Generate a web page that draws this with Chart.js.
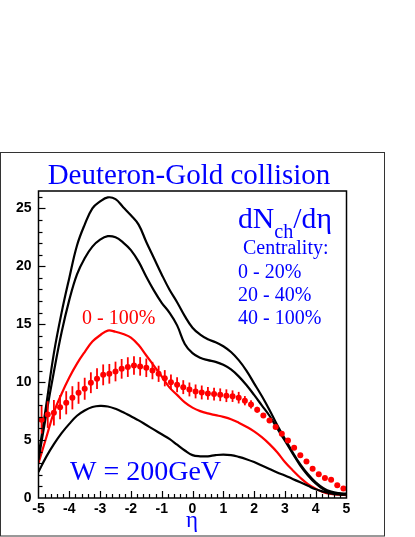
<!DOCTYPE html>
<html>
<head>
<meta charset="utf-8">
<script src="https://cdn.jsdelivr.net/npm/chart.js@4/dist/chart.umd.min.js"></script>
<style>
  html, body { margin: 0; padding: 0; background: #fff; }
  canvas { display: block; }
</style>
</head>
<body>
<canvas id="dAuChart" width="415" height="537"></canvas>
<script>
// Grade de eta das curvas teóricas
const etaGrid = [-5, -4.75, -4.5, -4.25, -4, -3.75, -3.5, -3.25, -3, -2.75, -2.5, -2.25, -2, -1.75, -1.5, -1.25, -1, -0.75, -0.5, -0.25,
    0, 0.25, 0.5, 0.75, 1, 1.25, 1.5, 1.75, 2, 2.25, 2.5, 2.75, 3, 3.25, 3.5, 3.75, 4, 4.25, 4.5, 4.75, 5];

// dN/deta por centralidade (curvas pretas) e minimum bias (curva vermelha)
const central0to20 = [3.6, 8.0, 12.5, 16.0, 19.0, 21.8, 23.6, 25.0, 25.6, 25.95, 25.8, 25.1, 24.4, 23.6, 22.1, 20.7, 19.3, 18.0, 16.9, 15.7,
    14.7, 14.1, 13.7, 13.45, 13.1, 12.6, 11.9, 11.0, 9.9, 8.8, 7.6, 6.3, 5.1, 3.95, 2.9, 2.05, 1.35, 0.85, 0.55, 0.42, 0.38];
const central20to40 = [3.3, 7.2, 10.9, 14.3, 17.1, 19.3, 20.7, 21.7, 22.3, 22.6, 22.5, 22.05, 21.4, 20.4, 19.1, 17.9, 16.85, 16.0, 14.9, 13.3,
    12.5, 12.1, 11.9, 11.75, 11.5, 11.1, 10.5, 9.75, 8.9, 8.0, 7.1, 6.0, 4.95, 3.85, 2.8, 1.95, 1.25, 0.75, 0.45, 0.35, 0.3];
const central40to100 = [2.25, 3.55, 4.65, 5.6, 6.4, 7.1, 7.55, 7.85, 7.95, 7.9, 7.7, 7.4, 7.05, 6.7, 6.3, 5.9, 5.5, 5.1, 4.6, 4.1,
    3.7, 3.6, 3.6, 3.7, 3.75, 3.7, 3.55, 3.35, 3.1, 2.8, 2.5, 2.2, 1.95, 1.65, 1.35, 1.05, 0.75, 0.55, 0.4, 0.3, 0.3];
const minBias0to100 = [3.0, 5.2, 7.4, 9.0, 10.4, 11.6, 12.6, 13.5, 14.05, 14.45, 14.35, 14.15, 13.85, 13.2, 12.3, 11.4, 10.5, 9.55, 8.9, 8.25,
    7.8, 7.5, 7.3, 7.15, 7.0, 6.8, 6.5, 6.15, 5.75, 5.25, 4.65, 3.95, 3.1, 2.4, 1.75, 1.2, 0.8, 0.5, 0.35, 0.28, 0.25];

// Dados experimentais (pontos vermelhos) com barras de erro
const dataEta = [-4.9, -4.7, -4.5, -4.3, -4.1, -3.9, -3.7, -3.5, -3.3, -3.1, -2.9, -2.7, -2.5, -2.3, -2.1, -1.9, -1.7, -1.5, -1.3, -1.1,
    -0.9, -0.7, -0.5, -0.3, -0.1, 0.1, 0.3, 0.5, 0.7, 0.9, 1.1, 1.3, 1.5, 1.7, 1.9, 2.1, 2.3, 2.5, 2.7, 2.9,
    3.1, 3.3, 3.5, 3.7, 3.9, 4.1, 4.3, 4.5, 4.7, 4.9];
const dataValues = [6.76, 7.2, 7.36, 7.84, 8.22, 8.65, 9.08, 9.43, 9.95, 10.3, 10.63, 10.72, 10.92, 11.15, 11.3, 11.44, 11.36, 11.24, 11.0, 10.72,
    10.34, 10.0, 9.78, 9.57, 9.37, 9.2, 9.11, 9.03, 8.97, 8.91, 8.83, 8.79, 8.66, 8.4, 8.08, 7.62, 7.13, 6.7, 6.12, 5.55,
    4.97, 4.34, 3.68, 3.16, 2.53, 2.04, 1.72, 1.58, 1.09, 0.81];
const dataErrors = [1.2, 1.15, 1.1, 1.05, 1.0, 1.0, 0.95, 0.95, 0.9, 0.9, 0.9, 0.85, 0.85, 0.85, 0.85, 0.8, 0.8, 0.8, 0.75, 0.7,
    0.7, 0.65, 0.65, 0.6, 0.6, 0.6, 0.6, 0.55, 0.55, 0.55, 0.55, 0.5, 0.5, 0.4, 0.35, 0.25, 0.2, 0.2, 0.15, 0.15,
    0.1, 0.1, 0.1, 0.1, 0.1, 0.1, 0.1, 0.1, 0.1, 0.1];

// Rótulos dos eixos
const xTickLabels = [-5, -4, -3, -2, -1, 0, 1, 2, 3, 4, 5];
const yTickLabels = [0, 5, 10, 15, 20, 25];

const BLUE = '#0000ff';
const RED = '#ff0000';

function toPoints(xs, ys) {
    return xs.map((x, i) => ({ x: x, y: ys[i] }));
}

function curve(values, color) {
    return {
        data: toPoints(etaGrid, values),
        borderColor: color,
        borderWidth: 2.2,
        pointRadius: 0,
        tension: 0.4,
        fill: false,
        order: 2
    };
}

// Barras de erro desenhadas logo antes dos pontos
const errorBars = {
    id: 'errorBars',
    beforeDatasetDraw(chart, args) {
        if (args.index !== 4) return;
        const { ctx, scales: { x, y } } = chart;
        ctx.save();
        ctx.strokeStyle = RED;
        ctx.lineWidth = 1.8;
        dataEta.forEach((eta, i) => {
            const px = x.getPixelForValue(eta);
            ctx.beginPath();
            ctx.moveTo(px, y.getPixelForValue(dataValues[i] - dataErrors[i]));
            ctx.lineTo(px, y.getPixelForValue(dataValues[i] + dataErrors[i]));
            ctx.stroke();
        });
        ctx.restore();
    }
};

// dN_ch/d(eta) com subscrito, ajustado para ocupar a largura indicada
function drawDNdEta(ctx, x0, baseline, targetWidth) {
    const serif = s => s + 'px "Liberation Serif"';
    let big = 28, small = 19;
    const measure = () => {
        ctx.font = serif(big);
        let w = ctx.measureText('dN').width + ctx.measureText('/d\u03b7').width;
        ctx.font = serif(small);
        return w + ctx.measureText('ch').width;
    };
    const k = targetWidth / measure();
    big *= k; small *= k;
    let cx = x0;
    ctx.font = serif(big);
    ctx.fillText('dN', cx, baseline);
    cx += ctx.measureText('dN').width;
    ctx.font = serif(small);
    ctx.fillText('ch', cx, baseline + 10);
    cx += ctx.measureText('ch').width;
    ctx.font = serif(big);
    ctx.fillText('/d\u03b7', cx, baseline);
}

// Moldura, marcas dos eixos e textos
const decorations = {
    id: 'decorations',
    beforeDraw(chart) {
        const ctx = chart.ctx;
        ctx.save();
        ctx.fillStyle = '#fff';
        ctx.fillRect(0, 0, chart.width, chart.height);
        ctx.restore();
    },
    afterDraw(chart) {
        const { ctx, chartArea: a, scales: { x, y } } = chart;
        ctx.save();

        // moldura externa
        ctx.strokeStyle = '#333';
        ctx.lineWidth = 1;
        ctx.strokeRect(0.5, 152.5, 384, 383.5);

        // marcas do eixo y (para dentro)
        ctx.strokeStyle = '#000';
        ctx.lineWidth = 1.2;
        for (let v = 1; v <= 26; v++) {
            const py = Math.round(y.getPixelForValue(v)) + 0.5;
            const len = v % 5 === 0 ? 7 : 4;
            ctx.beginPath();
            ctx.moveTo(a.left, py);
            ctx.lineTo(a.left + len, py);
            ctx.stroke();
        }
        // marcas do eixo x (para dentro)
        for (let k = 1; k < 50; k++) {
            const v = -5 + k * 0.2;
            const px = Math.round(x.getPixelForValue(v)) + 0.5;
            const len = k % 5 === 0 ? 7 : 4;
            ctx.beginPath();
            ctx.moveTo(px, a.bottom);
            ctx.lineTo(px, a.bottom - len);
            ctx.stroke();
        }

        // moldura do gráfico
        ctx.lineWidth = 1.5;
        ctx.strokeRect(a.left, a.top, a.right - a.left, a.bottom - a.top);

        // textos
        ctx.fillStyle = BLUE;
        ctx.textBaseline = 'alphabetic';
        ctx.textAlign = 'center';
        ctx.font = '29px "Liberation Serif"';
        ctx.fillText('Deuteron-Gold collision', 189, 184);

        ctx.textAlign = 'left';
        drawDNdEta(ctx, 238, 228, 94);

        ctx.font = '20px "Liberation Serif"';
        ctx.fillText('Centrality:', 243, 254);
        ctx.fillText('0 - 20%', 238, 278);
        ctx.fillText('20 - 40%', 238, 301);
        ctx.fillText('40 - 100%', 238, 324);

        ctx.fillStyle = RED;
        ctx.fillText('0 - 100%', 82, 324);

        ctx.fillStyle = BLUE;
        ctx.font = '28px "Liberation Serif"';
        ctx.fillText('W = 200GeV', 70, 480);

        ctx.textAlign = 'center';
        ctx.font = '23px "Liberation Serif"';
        ctx.fillText('\u03b7', 192, 527);

        ctx.restore();
    }
};

function createChart() {
    const ctx = document.getElementById('dAuChart').getContext('2d');

    const config = {
        type: 'line',
        data: {
            datasets: [
                curve(central0to20, '#000'),
                curve(central20to40, '#000'),
                curve(central40to100, '#000'),
                curve(minBias0to100, RED),
                {
                    data: toPoints(dataEta, dataValues),
                    showLine: false,
                    pointRadius: 3,
                    pointBackgroundColor: RED,
                    pointBorderColor: RED,
                    pointBorderWidth: 0,
                    order: 1
                }
            ]
        },
        options: {
            responsive: false,
            animation: false,
            devicePixelRatio: 1,
            layout: { padding: { top: 191, right: 68.5, left: 0, bottom: 0 } },
            plugins: { legend: { display: false }, tooltip: { enabled: false } },
            scales: {
                x: {
                    type: 'linear',
                    min: -5,
                    max: 5,
                    grid: { display: false, drawTicks: false },
                    border: { display: false },
                    afterFit(scale) { scale.height = 39; },
                    ticks: {
                        stepSize: 1,
                        autoSkip: false,
                        maxRotation: 0,
                        padding: 3,
                        color: '#000',
                        font: { family: '"Liberation Sans"', size: 14, weight: 'bold' },
                        callback: v => xTickLabels.includes(v) ? String(v) : ''
                    }
                },
                y: {
                    min: 0,
                    max: 26.5,
                    grid: { display: false, drawTicks: false },
                    border: { display: false },
                    afterFit(scale) { scale.width = 38.5; },
                    ticks: {
                        stepSize: 5,
                        autoSkip: false,
                        padding: 7,
                        color: '#000',
                        font: { family: '"Liberation Sans"', size: 14, weight: 'bold' },
                        callback: v => yTickLabels.includes(v) ? String(v) : ''
                    }
                }
            }
        },
        plugins: [errorBars, decorations]
    };

    new Chart(ctx, config);
}

document.addEventListener('DOMContentLoaded', createChart);
</script>
</body>
</html>
